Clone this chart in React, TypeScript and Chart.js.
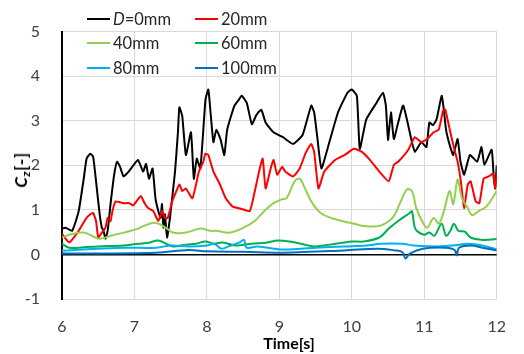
import React, { useEffect, useRef } from 'react';
import { Chart, registerables } from 'chart.js';
Chart.register(...registerables);

const seriesNames = ['D=0mm', '20mm', '40mm', '60mm', '80mm', '100mm'];
const seriesColors = ['#000000', '#FF0000', '#92D050', '#00B050', '#00B0F0', '#0070C0'];
const xMin = 6, xMax = 12, yMin = -1, yMax = 5;
const xTitle = 'Time[s]';

const t0 = [6.0, 6.05, 6.14, 6.23, 6.3, 6.34, 6.39, 6.43, 6.47, 6.52, 6.55, 6.57, 6.6, 6.63, 6.67, 6.72, 6.76, 6.8, 6.85, 6.92, 6.99, 7.05, 7.12, 7.16, 7.2, 7.25, 7.29, 7.33, 7.36, 7.38, 7.4, 7.42, 7.45, 7.49, 7.56, 7.6, 7.62, 7.66, 7.71, 7.78, 7.82, 7.86, 7.91, 7.98, 8.02, 8.05, 8.09, 8.13, 8.19, 8.24, 8.28, 8.38, 8.44, 8.48, 8.55, 8.62, 8.68, 8.75, 8.81, 8.92, 9.05, 9.19, 9.32, 9.44, 9.48, 9.52, 9.58, 9.68, 9.81, 9.94, 10.0, 10.07, 10.11, 10.2, 10.34, 10.43, 10.47, 10.5, 10.54, 10.58, 10.64, 10.71, 10.83, 10.87, 10.96, 11.03, 11.07, 11.12, 11.17, 11.24, 11.27, 11.3, 11.35, 11.4, 11.46, 11.5, 11.55, 11.63, 11.73, 11.79, 11.83, 11.93, 11.96, 11.98, 12.0];
const cz0 = [0.58, 0.6, 0.53, 0.97, 1.7, 2.15, 2.26, 2.19, 1.64, 0.9, 0.6, 0.55, 0.35, 0.53, 1.13, 1.79, 2.08, 1.97, 1.75, 1.86, 2.01, 2.12, 1.86, 2.03, 1.7, 1.93, 1.26, 0.97, 0.82, 1.13, 0.6, 0.9, 0.38, 0.82, 1.86, 2.74, 3.3, 3.1, 2.23, 2.74, 1.7, 2.15, 1.93, 3.47, 3.7, 3.19, 2.52, 2.8, 2.57, 2.23, 2.8, 3.34, 3.47, 3.56, 3.4, 2.92, 3.12, 3.25, 2.96, 2.74, 2.63, 2.48, 2.68, 3.34, 3.19, 2.68, 1.93, 2.46, 3.19, 3.63, 3.7, 3.56, 2.37, 3.03, 3.4, 3.63, 3.34, 2.57, 3.19, 2.59, 2.96, 3.34, 2.52, 2.3, 2.52, 2.41, 2.96, 2.9, 3.03, 3.56, 3.25, 2.8, 2.46, 2.23, 2.59, 2.08, 1.79, 2.23, 2.08, 2.41, 2.01, 2.35, 1.7, 1.48, 2.0];

const t20 = [6.0, 6.1, 6.23, 6.33, 6.39, 6.43, 6.47, 6.5, 6.55, 6.6, 6.63, 6.67, 6.7, 6.74, 6.8, 6.85, 6.93, 6.98, 7.05, 7.09, 7.14, 7.19, 7.26, 7.33, 7.38, 7.42, 7.46, 7.52, 7.56, 7.62, 7.66, 7.71, 7.8, 7.89, 7.95, 7.98, 8.02, 8.09, 8.18, 8.26, 8.35, 8.48, 8.59, 8.64, 8.72, 8.77, 8.81, 8.88, 8.92, 8.97, 9.04, 9.08, 9.19, 9.28, 9.37, 9.44, 9.48, 9.54, 9.62, 9.77, 9.9, 10.03, 10.14, 10.25, 10.38, 10.51, 10.58, 10.64, 10.78, 10.87, 10.96, 11.04, 11.13, 11.2, 11.26, 11.29, 11.33, 11.4, 11.46, 11.5, 11.55, 11.6, 11.64, 11.71, 11.76, 11.82, 11.89, 11.95, 11.98, 12.0];
const cz20 = [0.46, 0.27, 0.53, 0.8, 0.9, 0.93, 0.75, 0.38, 0.49, 0.6, 0.82, 0.75, 1.0, 1.19, 1.17, 1.15, 1.15, 1.1, 1.24, 1.31, 1.15, 1.04, 0.97, 0.75, 0.97, 0.82, 0.82, 1.19, 1.35, 1.57, 1.42, 1.48, 1.26, 1.86, 2.08, 2.26, 2.23, 1.86, 1.57, 1.26, 1.08, 1.02, 0.97, 1.26, 1.86, 2.15, 1.48, 1.93, 2.12, 1.79, 1.97, 1.86, 1.75, 1.93, 2.3, 2.48, 2.3, 1.48, 1.86, 2.12, 2.23, 2.37, 2.3, 2.12, 1.86, 1.64, 2.01, 2.08, 2.35, 2.63, 2.52, 2.59, 2.74, 2.8, 3.23, 3.25, 2.96, 2.46, 2.08, 1.7, 1.04, 1.57, 1.64, 1.19, 1.15, 1.7, 1.75, 1.81, 1.48, 1.81];

const t40 = [6.0, 6.14, 6.3, 6.41, 6.52, 6.67, 6.85, 7.05, 7.13, 7.26, 7.33, 7.45, 7.53, 7.71, 7.91, 8.05, 8.13, 8.31, 8.48, 8.66, 8.79, 8.92, 9.04, 9.1, 9.21, 9.28, 9.34, 9.44, 9.57, 9.75, 10.03, 10.16, 10.38, 10.56, 10.66, 10.76, 10.83, 10.89, 10.97, 11.04, 11.13, 11.2, 11.27, 11.35, 11.4, 11.46, 11.52, 11.6, 11.66, 11.75, 11.86, 12.0];
const cz40 = [0.38, 0.46, 0.49, 0.42, 0.35, 0.42, 0.49, 0.58, 0.64, 0.71, 0.69, 0.58, 0.49, 0.49, 0.58, 0.53, 0.53, 0.49, 0.58, 0.75, 0.97, 1.15, 1.24, 1.26, 1.64, 1.7, 1.53, 1.19, 0.93, 0.8, 0.69, 0.64, 0.64, 0.82, 1.13, 1.46, 1.42, 1.04, 0.75, 0.6, 0.82, 0.69, 0.97, 1.42, 1.13, 1.68, 1.26, 1.04, 0.88, 0.97, 1.08, 1.42];

const t60 = [6.0, 6.1, 6.3, 6.5, 6.85, 7.05, 7.19, 7.32, 7.4, 7.53, 7.71, 7.85, 7.98, 8.1, 8.22, 8.4, 8.62, 8.84, 8.97, 9.14, 9.3, 9.48, 9.7, 10.0, 10.16, 10.38, 10.51, 10.64, 10.8, 10.83, 10.87, 10.92, 11.0, 11.07, 11.14, 11.24, 11.3, 11.36, 11.41, 11.47, 11.56, 11.64, 11.78, 11.9, 12.0];
const cz60 = [0.24, 0.15, 0.16, 0.18, 0.2, 0.24, 0.26, 0.31, 0.27, 0.18, 0.22, 0.24, 0.29, 0.24, 0.27, 0.2, 0.24, 0.27, 0.31, 0.29, 0.24, 0.18, 0.22, 0.29, 0.29, 0.38, 0.58, 0.75, 0.93, 0.97, 0.6, 0.5, 0.44, 0.49, 0.42, 0.69, 0.42, 0.53, 0.69, 0.53, 0.51, 0.38, 0.33, 0.33, 0.35];

const t80 = [6.0, 6.4, 6.85, 7.3, 7.5, 7.75, 8.0, 8.1, 8.2, 8.3, 8.45, 8.51, 8.55, 8.7, 9.05, 9.5, 9.9, 10.2, 10.4, 10.7, 10.85, 11.2, 11.4, 11.6, 11.8, 12.0];
const cz80 = [0.08, 0.12, 0.15, 0.15, 0.2, 0.18, 0.2, 0.24, 0.13, 0.18, 0.27, 0.33, 0.15, 0.18, 0.11, 0.15, 0.18, 0.2, 0.24, 0.24, 0.2, 0.18, 0.2, 0.24, 0.2, 0.11];

const t100 = [6.0, 7.3, 7.75, 8.0, 8.5, 9.05, 9.9, 10.35, 10.6, 10.7, 10.74, 10.8, 10.98, 11.3, 11.42, 11.45, 11.48, 11.65, 11.8, 12.0];
const cz100 = [0.02, 0.04, 0.1, 0.07, 0.06, 0.04, 0.09, 0.13, 0.09, 0.05, -0.09, 0.02, 0.13, 0.15, 0.1, -0.02, 0.15, 0.2, 0.15, 0.09];

const seriesTimes = [t0, t20, t40, t60, t80, t100];
const seriesValues = [cz0, cz20, cz40, cz60, cz80, cz100];

const FONT = 'Lato, Carlito, "Open Sans", sans-serif';

// legend item placement (layout, not data)
const legendPos = [
  { x: 87, y: 19 }, { x: 195, y: 19 },
  { x: 87, y: 43 }, { x: 195, y: 43 },
  { x: 87, y: 68 }, { x: 195, y: 68 },
];

export default function App() {
  const ref = useRef<HTMLCanvasElement | null>(null);
  useEffect(() => {
    let chart: Chart | null = null;
    let cancelled = false;
    const make = () => {
      if (cancelled || !ref.current) return;
      const datasets = seriesNames.map((name, i) => ({
        label: name,
        data: seriesTimes[i].map((t, k) => ({ x: t, y: seriesValues[i][k] })),
        borderColor: seriesColors[i],
        backgroundColor: seriesColors[i],
        borderWidth: 2,
        pointRadius: 0,
        tension: i < 2 ? 0.15 : 0.35,
        order: seriesNames.length - i,
        fill: false,
      }));
      chart = new Chart(ref.current, {
        type: 'line',
        data: { datasets },
        options: {
          animation: false,
          responsive: true,
          maintainAspectRatio: false,
          layout: { padding: { top: 29, right: 8, left: 0, bottom: 0 } },
          plugins: { legend: { display: false }, tooltip: { enabled: false } },
          scales: {
            x: {
              type: 'linear',
              min: xMin,
              max: xMax,
              afterFit: (s: any) => { s.height = 55; },
              grid: { color: '#d9d9d9', lineWidth: 1, drawTicks: false },
              border: { display: false },
              ticks: {
                stepSize: 1,
                padding: 18,
                maxRotation: 0,
                autoSkip: false,
                color: '#404040',
                font: { family: FONT, size: 16 },
              },
            },
            y: {
              type: 'linear',
              min: yMin,
              max: yMax,
              afterFit: (s: any) => { s.width = 62; },
              grid: {
                color: (c: any) => (c.tick && c.tick.value === 0 ? '#000000' : '#d9d9d9'),
                lineWidth: (c: any) => (c.tick && c.tick.value === 0 ? 1.5 : 1),
                drawTicks: false,
              },
              border: { display: true, color: '#000000', width: 2 },
              ticks: {
                stepSize: 1,
                padding: 22,
                color: '#404040',
                font: { family: FONT, size: 16 },
              },
            },
          },
        },
      });
    };
    const fontsReady = (document as any).fonts && (document as any).fonts.load
      ? Promise.all([
          (document as any).fonts.load('16px Lato'),
          (document as any).fonts.load('bold 16px Lato'),
        ]).catch(() => null)
      : Promise.resolve(null);
    fontsReady.then(make);
    return () => {
      cancelled = true;
      if (chart) chart.destroy();
    };
  }, []);

  return (
    <div style={{ position: 'absolute', left: 0, top: 0, width: 524, height: 354, background: '#fff', fontFamily: FONT }}>
      <canvas ref={ref} />
      {seriesNames.map((name, i) => (
        <div key={name}>
          <div style={{ position: 'absolute', left: legendPos[i].x, top: legendPos[i].y - 1, width: 23, height: 2, background: seriesColors[i] }} />
          <div style={{ position: 'absolute', left: legendPos[i].x + 26, top: legendPos[i].y - 10, height: 20, lineHeight: '20px', fontSize: 16.5, color: '#262626', whiteSpace: 'nowrap' }}>
            {name.startsWith('D=') ? (<><i>D</i>{name.slice(1)}</>) : name}
          </div>
        </div>
      ))}
      <div style={{ position: 'absolute', left: 22, top: 170, transform: 'translate(-50%, -50%) rotate(-90deg)', whiteSpace: 'nowrap', fontWeight: 'bold', fontSize: 17, lineHeight: '20px', color: '#000', letterSpacing: 0.5 }}>
        <i>C</i><span style={{ fontSize: 12, position: 'relative', top: 3, fontStyle: 'italic' }}>z</span><span>[-]</span>
      </div>
      <div style={{ position: 'absolute', left: 289, top: 343, transform: 'translate(-50%, -50%)', whiteSpace: 'nowrap', fontWeight: 'bold', fontSize: 16, lineHeight: '20px', color: '#000' }}>
        {xTitle}
      </div>
    </div>
  );
}
